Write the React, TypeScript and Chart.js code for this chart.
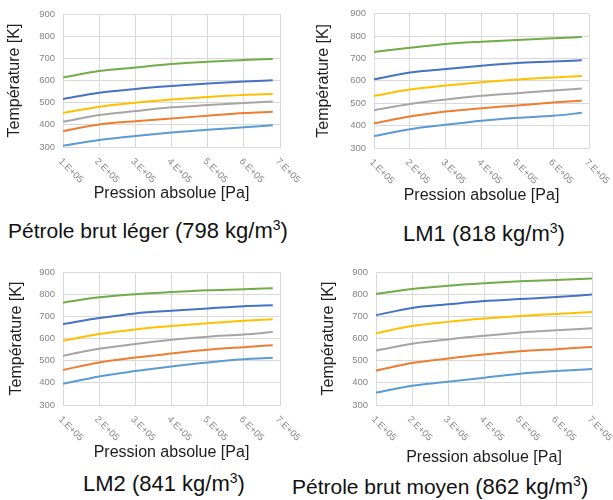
import React, { useEffect, useRef } from 'react';
import { Chart, registerables } from 'chart.js';

Chart.register(...registerables);

// ---------- data ----------
const PRESSURE_SHORT = [1e5, 2e5, 3e5, 4e5, 5e5, 6e5, 6.8e5];
const PRESSURE_LONG = [1e5, 2e5, 3e5, 4e5, 5e5, 6e5, 7e5];
const X_TICK_VALUES = [1e5, 2e5, 3e5, 4e5, 5e5, 6e5, 7e5];
const X_TICK_LABELS = ['1.E+05', '2.E+05', '3.E+05', '4.E+05', '5.E+05', '6.E+05', '7.E+05'];
const Y_MIN = 300;
const Y_MAX = 900;
const Y_STEP = 100;

const SERIES_COLORS = ['#5B9BD5', '#ED7D31', '#A5A5A5', '#FFC000', '#4472C4', '#70AD47'];

// Pétrole brut léger (798 kg/m3)
const LEGER_1 = [306, 332, 350, 365, 378, 389, 398];
const LEGER_2 = [372, 402, 416, 429, 441, 453, 459];
const LEGER_3 = [414, 444, 462, 479, 489, 498, 505];
const LEGER_4 = [453, 482, 500, 514, 526, 535, 539];
const LEGER_5 = [517, 545, 562, 575, 586, 595, 601];
const LEGER_6 = [614, 643, 659, 674, 685, 692, 697];

// LM1 (818 kg/m3)
const LM1_1 = [353, 384, 404, 422, 435, 444, 457];
const LM1_2 = [410, 441, 463, 478, 490, 503, 511];
const LM1_3 = [469, 497, 517, 533, 545, 557, 566];
const LM1_4 = [533, 561, 579, 594, 606, 615, 622];
const LM1_5 = [607, 637, 653, 668, 680, 686, 692];
const LM1_6 = [729, 748, 765, 775, 783, 790, 796];

// LM2 (841 kg/m3)
const LM2_1 = [396, 429, 453, 474, 492, 506, 513];
const LM2_2 = [458, 492, 514, 532, 549, 561, 570];
const LM2_3 = [522, 554, 575, 594, 608, 618, 629];
const LM2_4 = [590, 620, 641, 656, 669, 680, 687];
const LM2_5 = [665, 692, 713, 725, 735, 746, 750];
const LM2_6 = [762, 786, 800, 810, 818, 822, 827];

// Pétrole brut moyen (862 kg/m3)
const MOYEN_1 = [356, 387, 405, 423, 441, 453, 462];
const MOYEN_2 = [455, 489, 510, 528, 542, 552, 562];
const MOYEN_3 = [546, 576, 596, 612, 627, 637, 646];
const MOYEN_4 = [624, 656, 675, 690, 702, 711, 720];
const MOYEN_5 = [705, 738, 754, 769, 778, 787, 798];
const MOYEN_6 = [801, 823, 838, 849, 858, 864, 871];

const X_TITLE = 'Pression absolue [Pa]';
const Y_TITLE = 'Température [K]';

// ---------- panel layout ----------
type Panel = {
  name: string;
  density: string;
  pressure: number[];
  series: number[][];
  box: { x: number; y: number; w: number; h: number };
  area: { l: number; t: number; r: number; b: number };
  yTitleX: number;
  caption: { x: number; baseline: number; size: number };
};

const PANELS: Panel[] = [
  {
    name: 'Pétrole brut léger',
    density: '(798 kg/m',
    pressure: PRESSURE_SHORT,
    series: [LEGER_1, LEGER_2, LEGER_3, LEGER_4, LEGER_5, LEGER_6],
    box: { x: 0, y: 0, w: 306, h: 203 },
    area: { l: 63, t: 14, r: 280, b: 147 },
    yTitleX: 15,
    caption: { x: 8, baseline: 238, size: 21 },
  },
  {
    name: 'LM1',
    density: '(818 kg/m',
    pressure: PRESSURE_SHORT,
    series: [LM1_1, LM1_2, LM1_3, LM1_4, LM1_5, LM1_6],
    box: { x: 306, y: 0, w: 307, h: 205 },
    area: { l: 374, t: 13, r: 589, b: 148 },
    yTitleX: 324,
    caption: { x: 403, baseline: 241, size: 22 },
  },
  {
    name: 'LM2',
    density: '(841 kg/m',
    pressure: PRESSURE_SHORT,
    series: [LM2_1, LM2_2, LM2_3, LM2_4, LM2_5, LM2_6],
    box: { x: 0, y: 250, w: 306, h: 212 },
    area: { l: 63, t: 272, r: 280, b: 405 },
    yTitleX: 17,
    caption: { x: 83, baseline: 491, size: 22 },
  },
  {
    name: 'Pétrole brut moyen',
    density: '(862 kg/m',
    pressure: PRESSURE_LONG,
    series: [MOYEN_1, MOYEN_2, MOYEN_3, MOYEN_4, MOYEN_5, MOYEN_6],
    box: { x: 306, y: 250, w: 307, h: 217 },
    area: { l: 376, t: 272, r: 592, b: 405 },
    yTitleX: 329,
    caption: { x: 292, baseline: 494, size: 21 },
  },
];

const FONT_FAMILY = '"Liberation Sans", Arial, Helvetica, sans-serif';
const TICK_COLOR = '#858585';
const GRID_COLOR = '#d9d9d9';
const TITLE_COLOR = '#1e1e1e';

const xTickLabelPlugin = {
  id: 'xTickLabelsRotated',
  afterDraw(chart: any) {
    const sx = chart.scales.x;
    const ctx = chart.ctx;
    ctx.save();
    ctx.font = `9.5px ${FONT_FAMILY}`;
    ctx.fillStyle = TICK_COLOR;
    ctx.textAlign = 'left';
    ctx.textBaseline = 'middle';
    sx.ticks.forEach((t: any) => {
      const idx = X_TICK_VALUES.findIndex((v) => Math.abs(v - t.value) < 1);
      if (idx < 0) return;
      const x = sx.getPixelForValue(t.value);
      ctx.save();
      ctx.translate(x - 3, chart.chartArea.bottom + 13);
      ctx.rotate(Math.PI / 4);
      ctx.fillText(X_TICK_LABELS[idx], 0, 0);
      ctx.restore();
    });
    ctx.restore();
  },
};

function PanelChart({ panel }: { panel: Panel }) {
  const ref = useRef<HTMLCanvasElement | null>(null);

  useEffect(() => {
    if (!ref.current) return;
    const { box, area } = panel;
    const localL = area.l - box.x;
    const localT = area.t - box.y;
    const localR = area.r - box.x;
    const localB = area.b - box.y;
    const titleLH = 16 * 1.2;
    const yTitlePad = Math.max(0, panel.yTitleX - box.x - titleLH / 2);

    const chart = new Chart(ref.current, {
      type: 'line',
      data: {
        datasets: panel.series.map((vals, i) => ({
          label: `S${i + 1}`,
          data: vals.map((v, j) => ({ x: panel.pressure[j], y: v })),
          borderColor: SERIES_COLORS[i],
          backgroundColor: SERIES_COLORS[i],
          borderWidth: 2,
          pointRadius: 0,
          fill: false,
          cubicInterpolationMode: 'monotone' as const,
        })),
      },
      options: {
        responsive: false,
        animation: false,
        devicePixelRatio: 1,
        layout: {
          padding: { left: 0, top: localT, right: box.w - localR, bottom: 0 },
        },
        plugins: {
          legend: { display: false },
          tooltip: { enabled: false },
        },
        scales: {
          x: {
            type: 'linear',
            min: X_TICK_VALUES[0],
            max: X_TICK_VALUES[X_TICK_VALUES.length - 1],
            afterBuildTicks: (s: any) => {
              s.ticks = X_TICK_VALUES.map((v) => ({ value: v }));
            },
            ticks: { display: false },
            grid: { color: GRID_COLOR, lineWidth: 1, drawTicks: false },
            border: { color: GRID_COLOR },
            title: {
              display: true,
              text: X_TITLE,
              color: TITLE_COLOR,
              font: { family: FONT_FAMILY, size: 16 },
              padding: { top: 0, bottom: 0 },
            },
            afterFit: (s: any) => {
              s.height = box.h - localB;
            },
          },
          y: {
            type: 'linear',
            min: Y_MIN,
            max: Y_MAX,
            ticks: {
              stepSize: Y_STEP,
              color: TICK_COLOR,
              padding: 8,
              font: { family: FONT_FAMILY, size: 9.5 },
            },
            grid: { color: GRID_COLOR, lineWidth: 1, drawTicks: false },
            border: { color: GRID_COLOR },
            title: {
              display: true,
              text: Y_TITLE,
              color: TITLE_COLOR,
              font: { family: FONT_FAMILY, size: 16 },
              padding: { top: yTitlePad, bottom: 0 },
            },
            afterFit: (s: any) => {
              s.width = localL;
            },
          },
        },
      },
      plugins: [xTickLabelPlugin],
    });
    return () => chart.destroy();
  }, [panel]);

  const { box, caption } = panel;
  return (
    <>
      <canvas
        ref={ref}
        width={box.w}
        height={box.h}
        style={{ position: 'absolute', left: box.x, top: box.y, width: box.w, height: box.h }}
      />
      <div
        style={{
          position: 'absolute',
          left: caption.x,
          top: caption.baseline - 20.5,
          whiteSpace: 'nowrap',
          fontFamily: FONT_FAMILY,
          fontSize: caption.size,
          lineHeight: '26px',
          color: '#111',
        }}
      >
        {panel.name}{' '}
        <span style={{ fontSize: 22 }}>
          {panel.density}
          <sup style={{ fontSize: 14, verticalAlign: 'baseline', position: 'relative', top: -8 }}>3</sup>)
        </span>
      </div>
    </>
  );
}

export default function App() {
  return (
    <div
      style={{
        position: 'absolute',
        left: 0,
        top: 0,
        width: 613,
        height: 500,
        background: '#ffffff',
        overflow: 'hidden',
      }}
    >
      {PANELS.map((p) => (
        <PanelChart key={p.name} panel={p} />
      ))}
    </div>
  );
}
